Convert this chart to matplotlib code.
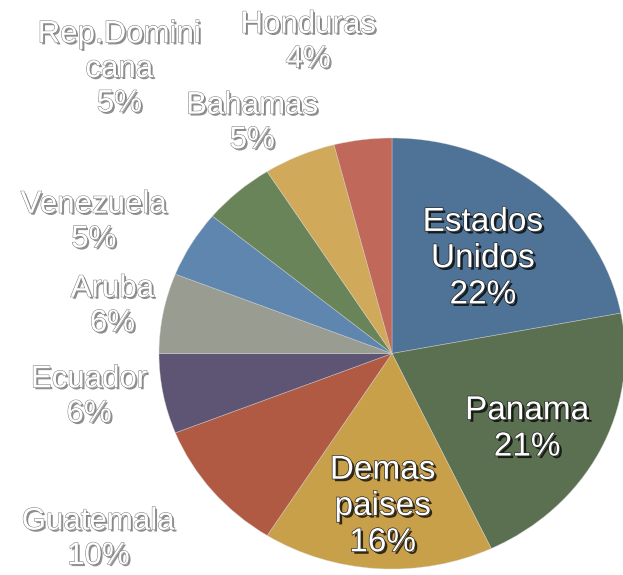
import matplotlib
matplotlib.use('Agg')
import matplotlib.pyplot as plt
import matplotlib.patheffects as pe

# Participacion por pais de destino
paises = ['Estados\nUnidos', 'Panama', 'Demas\npaises', 'Guatemala', 'Ecuador',
          'Aruba', 'Venezuela', 'Rep.Domini\ncana', 'Bahamas', 'Honduras']
porcentajes = [22, 21, 16, 10, 6, 6, 5, 5, 5, 4]
colores = ['#4e7396', '#5a7050', '#c9a04a', '#b05a43', '#5e5574',
           '#999c90', '#5e86af', '#6a8459', '#d0a95a', '#c0685a']

# posicion de cada etiqueta (coordenadas del grafico) y si va dentro del sector
pos_etiquetas = [(0.39, 0.44), (0.58, -0.35), (-0.04, -0.71), (-1.26, -0.86),
                 (-1.30, -0.20), (-1.20, 0.22), (-1.28, 0.61), (-1.17, 1.32),
                 (-0.60, 1.07), (-0.36, 1.445)]
dentro = [True, True, True, False, False, False, False, False, False, False]

plt.rcParams['font.family'] = ['Liberation Sans', 'DejaVu Sans']

fig = plt.figure(figsize=(6.23, 5.75), dpi=100)
ax = fig.add_axes([159 / 623, 6 / 575, 466 / 623, 431 / 575])

ax.pie(porcentajes, colors=colores, startangle=90, counterclock=False,
       wedgeprops=dict(edgecolor=(0.85, 0.85, 0.85, 0.5), linewidth=0.5))
ax.set_aspect('auto')
ax.set_xlim(-1, 1)
ax.set_ylim(-1, 1)

efecto_dentro = [pe.SimplePatchShadow(offset=(1.8, -1.8), shadow_rgbFace='black', alpha=0.75),
                 pe.Stroke(linewidth=1.0, foreground='#2a2a2a'), pe.Normal()]
efecto_fuera = [pe.SimplePatchShadow(offset=(1.4, -1.4), shadow_rgbFace='#333333', alpha=0.55),
                pe.Stroke(linewidth=0.7, foreground='#7a7a7a'), pe.Normal()]

for nombre, valor, (x, y), d in zip(paises, porcentajes, pos_etiquetas, dentro):
    ax.text(x, y, f'{nombre}\n{valor}%', ha='center', va='center',
            color='white', fontsize=24 if d else 22.5, linespacing=1.22 if d else 1.2,
            path_effects=efecto_dentro if d else efecto_fuera, clip_on=False)

plt.savefig('out.png', dpi=100)
